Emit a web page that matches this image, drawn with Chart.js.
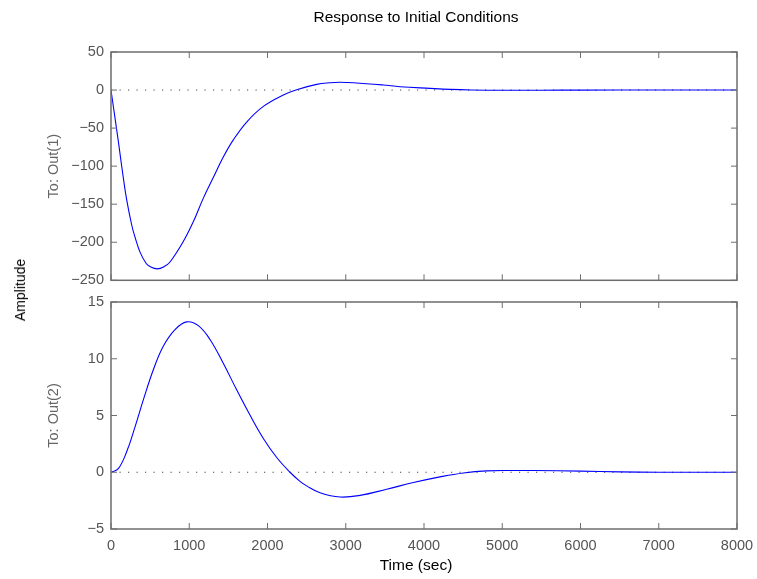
<!DOCTYPE html>
<html>
<head>
<meta charset="utf-8">
<script src="https://cdn.jsdelivr.net/npm/chart.js@4.4.1/dist/chart.umd.min.js"></script>
<style>
  body { margin: 0; background: #fff; }
  #wrap { position: relative; width: 757px; height: 579px; font-family: "Liberation Sans", Arial, sans-serif; }
  canvas { position: absolute; left: 0; }
  .lbl { position: absolute; color: #000; white-space: nowrap; z-index: 2; }
  #title { left: 416px; top: 17px; transform: translate(-50%, -50%); font-size: 15.5px; }
  #amp { left: 20px; top: 290px; transform: translate(-50%, -50%) rotate(-90deg); font-size: 14px; }
  #xlab { left: 416px; top: 565px; transform: translate(-50%, -50%); font-size: 15.5px; }
</style>
</head>
<body>
<div id="wrap">
  <canvas id="top" style="top:0px"></canvas>
  <canvas id="bottom" style="top:280px"></canvas>
  <div class="lbl" id="title">Response to Initial Conditions</div>
  <div class="lbl" id="amp">Amplitude</div>
  <div class="lbl" id="xlab">Time (sec)</div>
</div>
<script>
// time axis
const timeTicks = [0, 1000, 2000, 3000, 4000, 5000, 6000, 7000, 8000]

// Out(1)
const timeOut1 = [0, 50, 100, 150, 200, 264, 300, 371, 450, 498, 590, 680, 754, 924, 1052, 1180, 1307, 1435, 1563, 1734, 1947, 2202, 2373, 2629, 2800, 2926, 3100, 3480, 3693, 4077, 4332, 4600, 5000, 5500, 6000, 7000, 8000]
const valOut1 = [0, -36, -72, -110, -144, -177, -191, -213, -228, -232, -235, -232, -226, -199, -173, -142, -115, -88, -65.5, -42, -21.5, -6.5, 0.5, 7.5, 9.6, 10.2, 9.6, 6.6, 4.4, 2.2, 0.9, 0.1, -0.3, -0.2, -0.05, 0, 0]
const ticksOut1 = [50, 0, -50, -100, -150, -200, -250]

// Out(2)
const timeOut2 = [0, 94, 200, 307, 413, 541, 668, 818, 967, 1116, 1265, 1435, 1606, 1776, 1947, 2118, 2288, 2415, 2501, 2671, 2927, 3182, 3523, 3864, 4204, 4502, 4801, 5141, 5400, 6000, 6500, 7000, 8000]
const valOut2 = [0, 0.32, 1.8, 4.0, 6.37, 9.03, 11.1, 12.57, 13.25, 12.92, 11.7, 9.6, 7.26, 5.04, 2.98, 1.3, 0, -0.8, -1.2, -1.8, -2.18, -2.04, -1.5, -0.91, -0.41, -0.06, 0.12, 0.15, 0.15, 0.1, 0.03, 0, 0]
const ticksOut2 = [15, 10, 5, 0, -5]

Chart.defaults.font.family = '"Liberation Sans", Arial, sans-serif'
Chart.defaults.font.size = 14.5
Chart.defaults.color = '#555'

// matlab style box with ticks pointing inwards
const boxTicks = {
    id: 'boxTicks',
    afterDatasetsDraw(chart) {
        const { ctx, chartArea: a, scales: { x, y } } = chart
        ctx.save()
        ctx.strokeStyle = '#6e6e6e'
        ctx.lineWidth = 1
        ctx.beginPath()
        x.ticks.forEach((t) => {
            let px = x.getPixelForValue(t.value)
            ctx.moveTo(px, a.top); ctx.lineTo(px, a.top + 6)
            ctx.moveTo(px, a.bottom); ctx.lineTo(px, a.bottom - 6)
        })
        y.ticks.forEach((t) => {
            let py = y.getPixelForValue(t.value)
            ctx.moveTo(a.left, py); ctx.lineTo(a.left + 6, py)
            ctx.moveTo(a.right, py); ctx.lineTo(a.right - 6, py)
        })
        ctx.stroke()
        ctx.lineWidth = 1.5
        ctx.strokeRect(a.left, a.top, a.right - a.left, a.bottom - a.top)
        ctx.restore()
    }
}

function makeChart(id, height, times, values, yTicks, yLabel, padTop, xHeight, showX) {
    let canvas = document.getElementById(id)
    canvas.width = 757
    canvas.height = height
    canvas.style.width = '757px'
    canvas.style.height = height + 'px'

    let data = {
        datasets: [{
            data: times.map((t, i) => ({ x: t, y: values[i] })),
            borderColor: '#0000ff',
            borderWidth: 1.1,
            pointRadius: 0,
            tension: 0.4,
            fill: false,
            order: 1
        }, {
            data: [{ x: timeTicks[0], y: 0 }, { x: timeTicks[timeTicks.length - 1], y: 0 }],
            borderColor: '#444',
            borderWidth: 1,
            borderDash: [1.2, 7.3],
            pointRadius: 0,
            fill: false,
            order: 2
        }]
    }

    let options = {
        responsive: false,
        animation: false,
        layout: { padding: { top: padTop, right: 20, left: 40, bottom: 0 } },
        plugins: { legend: { display: false }, tooltip: { enabled: false } },
        scales: {
            x: {
                type: 'linear',
                min: timeTicks[0],
                max: timeTicks[timeTicks.length - 1],
                afterBuildTicks: (s) => { s.ticks = timeTicks.map((v) => ({ value: v })) },
                grid: { display: false, drawTicks: false },
                border: { display: false },
                ticks: { display: showX, padding: 8, color: '#555', maxRotation: 0, callback: (v) => String(v) },
                afterFit: (s) => {
                    s.height = xHeight
                    // let the last label hang into the right margin
                    s.paddingLeft = 0
                    s.paddingRight = 0
                }
            },
            y: {
                type: 'linear',
                min: yTicks[yTicks.length - 1],
                max: yTicks[0],
                afterBuildTicks: (s) => { s.ticks = yTicks.map((v) => ({ value: v })) },
                grid: { display: false, drawTicks: false },
                border: { display: false },
                ticks: {
                    padding: 7,
                    color: '#555',
                    callback: (v) => String(v).replace('-', '\u2212')
                },
                title: { display: true, text: yLabel, color: '#666', font: { size: 14.5 }, padding: { top: 5, bottom: 5 } },
                afterFit: (s) => { s.width = 71 }
            }
        }
    }

    return new Chart(canvas, { type: 'line', data: data, options: options, plugins: [boxTicks] })
}

var topChart = makeChart('top', 296, timeOut1, valOut1, ticksOut1, 'To: Out(1)', 52, 11, false)
var bottomChart = makeChart('bottom', 299, timeOut2, valOut2, ticksOut2, 'To: Out(2)', 22, 50, true)
</script>
</body>
</html>
